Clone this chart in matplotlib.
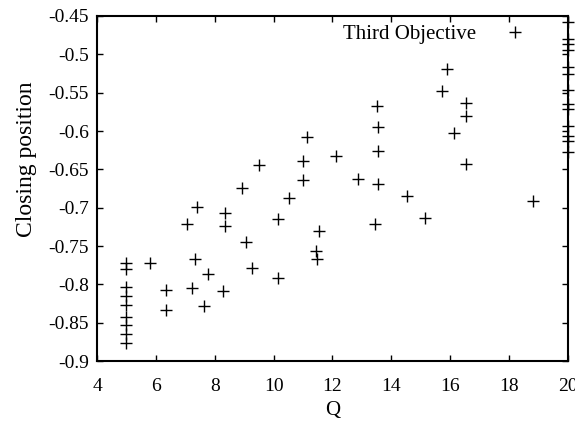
import matplotlib
matplotlib.use("Agg")
import matplotlib.pyplot as plt

plt.rcParams["font.family"] = ["Liberation Serif", "DejaVu Serif"]

# values
q_values = [5.0, 5.0, 5.0, 5.0, 5.0, 5.0, 5.0, 5.0, 5.0,
            5.80, 6.33, 6.33, 7.05, 7.39, 7.33, 7.22, 7.78, 7.65,
            8.35, 8.35, 8.27, 8.94, 9.07, 9.25, 9.50, 10.14, 10.14,
            10.53, 11.0, 11.0, 11.12, 11.54, 11.44, 11.47, 12.12, 12.88,
            13.52, 13.55, 13.55, 13.55, 13.44, 14.52, 15.15, 15.71, 15.88,
            16.14, 16.55, 16.53, 16.55, 18.82,
            20, 20, 20, 20, 20, 20, 20, 20, 20, 20, 20, 20, 20]
closing = [-0.772, -0.780, -0.804, -0.815, -0.827, -0.843, -0.853, -0.865, -0.876,
           -0.772, -0.807, -0.833, -0.721, -0.699, -0.767, -0.805, -0.786, -0.828,
           -0.707, -0.724, -0.809, -0.674, -0.745, -0.779, -0.644, -0.715, -0.792,
           -0.688, -0.639, -0.664, -0.608, -0.731, -0.757, -0.767, -0.632, -0.662,
           -0.567, -0.595, -0.626, -0.669, -0.721, -0.685, -0.714, -0.548, -0.519,
           -0.602, -0.564, -0.581, -0.643, -0.691,
           -0.458, -0.480, -0.487, -0.494, -0.517, -0.526, -0.547, -0.565, -0.571,
           -0.594, -0.607, -0.613, -0.628]

x_ticks = [4, 6, 8, 10, 12, 14, 16, 18, 20]
y_ticks = [-0.9, -0.85, -0.8, -0.75, -0.7, -0.65, -0.6, -0.55, -0.5, -0.45]

fig = plt.figure(figsize=(5.75, 4.22), dpi=100)
ax = fig.add_axes([0.1687, 0.1445, 0.8191, 0.8176])

ax.plot(q_values, closing, linestyle="none", marker="+", color="black",
        markersize=9, markeredgewidth=1.0, clip_on=False, label="Third Objective")

ax.set_xlim(4, 20)
ax.set_ylim(-0.9, -0.45)
ax.set_xticks(x_ticks)
ax.set_xticklabels([str(t) for t in x_ticks])
ax.set_yticks(y_ticks)
ax.set_yticklabels([f"{t:g}" for t in y_ticks])

ax.tick_params(direction="in", top=True, right=True, length=4, width=1.0,
               labelsize=14)
ax.tick_params(axis="y", pad=6)
ax.tick_params(axis="x", pad=12)
for s in ax.spines.values():
    s.set_linewidth(1.5)

ax.set_xlabel("Q", fontsize=15)
ax.xaxis.set_label_coords(0.5, -0.117)
ax.set_ylabel("Closing position", fontsize=17)
ax.yaxis.set_label_coords(-0.127, 0.585)

ax.legend(loc="upper right", bbox_to_anchor=(0.9415, 1.017), frameon=False,
          markerfirst=False, fontsize=15, handlelength=1.0, handletextpad=1.4,
          borderaxespad=0.3)

fig.savefig("out.png", dpi=100)
